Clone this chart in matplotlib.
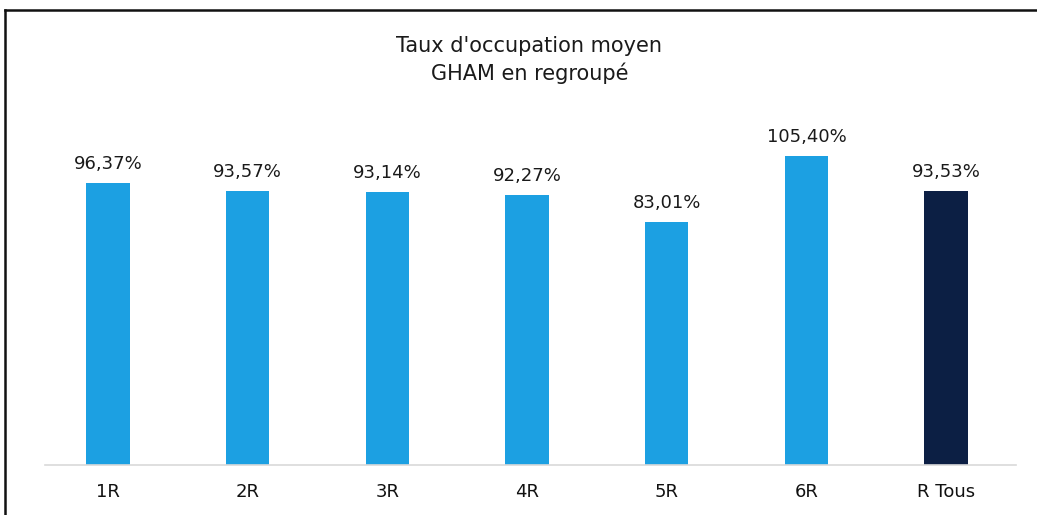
import matplotlib.pyplot as plt
from matplotlib.lines import Line2D

categories = ['1R', '2R', '3R', '4R', '5R', '6R', 'R Tous']
values = [96.37, 93.57, 93.14, 92.27, 83.01, 105.40, 93.53]
labels = ['96,37%', '93,57%', '93,14%', '92,27%', '83,01%', '105,40%', '93,53%']
colors = ['#1ca0e2'] * 6 + ['#0c1f44']

W, H = 1037, 515
plt.rcParams['font.family'] = ['DejaVu Sans']
fig = plt.figure(figsize=(W / 100, H / 100), dpi=100)

# axes in pixel terms: x from 45 to 1016, baseline at y=465
ax_left, ax_right = 45, 1016
ax_bottom, ax_top = 465, 465 - 120 * 2.93
ax = fig.add_axes([ax_left / W, 1 - ax_bottom / H,
                   (ax_right - ax_left) / W, (ax_bottom - ax_top) / H])

x = range(len(categories))
ax.bar(x, values, width=0.31, color=colors, zorder=2)
for i, (v, lab) in enumerate(zip(values, labels)):
    ax.text(i, v + 3.4, lab, ha='center', va='bottom', fontsize=13, color='#1a1a1a')

ax.set_xlim(-0.45, 6.5)
ax.set_ylim(0, 120)
ax.set_xticks(list(x))
ax.set_xticklabels(categories, fontsize=13, color='#111111')
ax.tick_params(axis='x', length=0, pad=13)
ax.set_yticks([])
for s in ['top', 'right', 'left']:
    ax.spines[s].set_visible(False)
ax.spines['bottom'].set_color('#d9d9d9')
ax.spines['bottom'].set_linewidth(1.2)

fig.text(529 / W, 1 - 46 / H, "Taux d'occupation moyen", ha='center', va='center',
         fontsize=15, color='#1a1a1a')
fig.text(530 / W, 1 - 73 / H, "GHAM en regroupé", ha='center', va='center',
         fontsize=15, color='#1a1a1a')

# frame of the scanned chart
fig.add_artist(Line2D([5 / W, 5 / W], [0, 1 - 10 / H], color='#111111', lw=1.8))
fig.add_artist(Line2D([5 / W, 1], [1 - 10 / H, 1 - 10 / H], color='#111111', lw=1.8))

fig.savefig('out.png', dpi=100)
